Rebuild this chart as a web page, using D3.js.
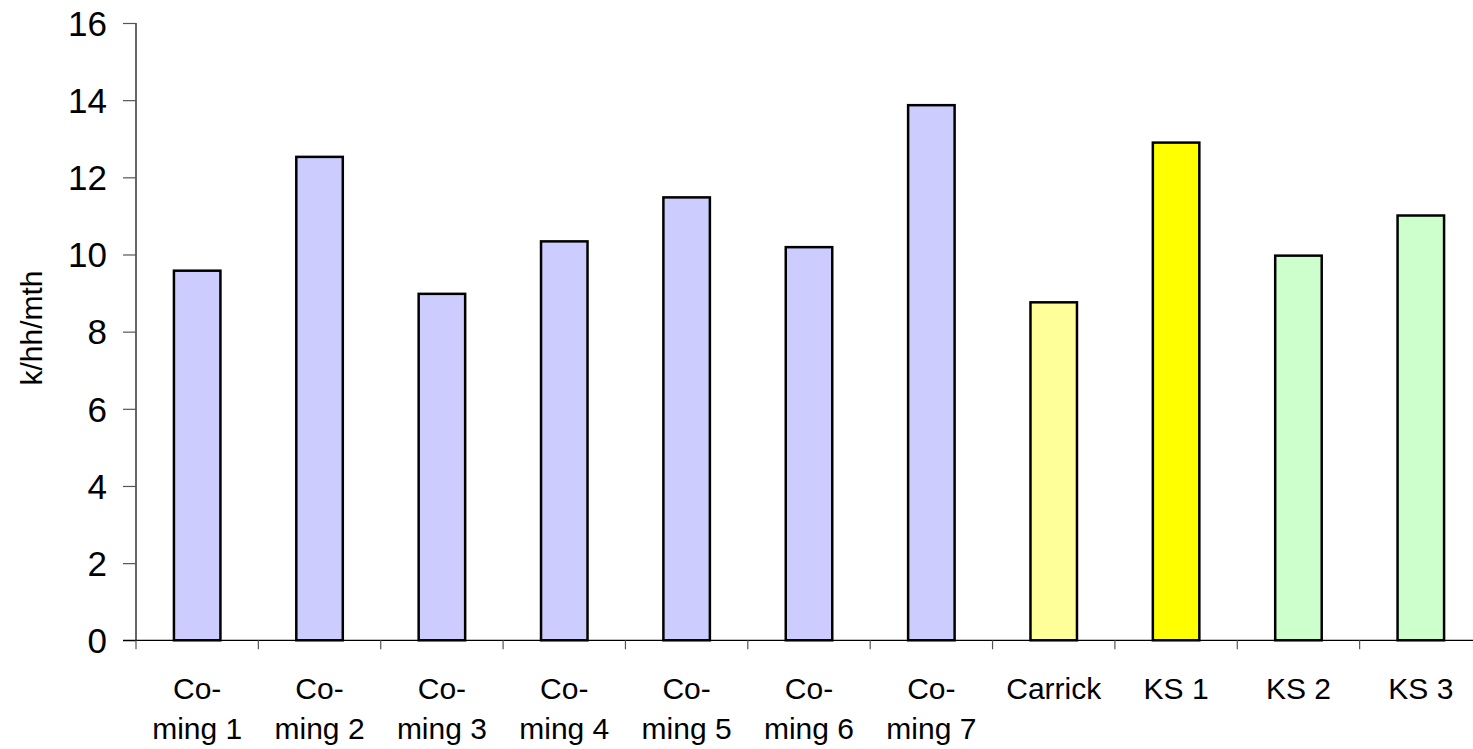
<!DOCTYPE html>
<html>
<head>
<meta charset="utf-8">
<script src="https://cdn.jsdelivr.net/npm/d3@7"></script>
<style>
  html, body { margin: 0; padding: 0; background: #fff; }
  svg { display: block; }
  text { font-family: "Liberation Sans", Arial, sans-serif; fill: #000; }
</style>
</head>
<body>
<svg id="chart" width="1473" height="749"></svg>
<script>
const categories = ["Co-ming 1", "Co-ming 2", "Co-ming 3", "Co-ming 4", "Co-ming 5", "Co-ming 6", "Co-ming 7", "Carrick", "KS 1", "KS 2", "KS 3"];
const labelLines = [["Co-", "ming 1"], ["Co-", "ming 2"], ["Co-", "ming 3"], ["Co-", "ming 4"], ["Co-", "ming 5"], ["Co-", "ming 6"], ["Co-", "ming 7"], ["Carrick"], ["KS 1"], ["KS 2"], ["KS 3"]];
const values = [9.58, 12.53, 8.98, 10.34, 11.48, 10.19, 13.87, 8.76, 12.90, 9.97, 11.01];
const barColors = ["#CCCCFF", "#CCCCFF", "#CCCCFF", "#CCCCFF", "#CCCCFF", "#CCCCFF", "#CCCCFF", "#FFFF99", "#FFFF00", "#CCFFCC", "#CCFFCC"];
const yTicks = [0, 2, 4, 6, 8, 10, 12, 14, 16];
const yTitle = "k/hh/mth";

(function () {
const svg = d3.select("#chart");
const pL = 136, pR = 1482, pT = 23, pB = 640.3;

const xOuter = d3.scaleBand().domain(categories).range([pL, pR]).padding(0);
const x = d3.scaleBand().domain(categories).range([pL, pR]).paddingInner(0.62).paddingOuter(0.31);
const y = d3.scaleLinear().domain([0, 16]).range([pB, pT]);

// bars
svg.append("g").selectAll("rect").data(categories).join("rect")
  .attr("x", d => x(d))
  .attr("y", (d, i) => y(values[i]))
  .attr("width", x.bandwidth())
  .attr("height", (d, i) => y(0) - y(values[i]))
  .attr("fill", (d, i) => barColors[i])
  .attr("stroke", "#000")
  .attr("stroke-width", 2.5);

// y axis
const yAxis = svg.append("g").attr("transform", `translate(${pL},0)`)
  .call(d3.axisLeft(y).tickValues(yTicks).tickSize(13).tickPadding(16).tickFormat(d3.format("d")));
yAxis.select(".domain").attr("stroke", "#000").attr("stroke-width", 1.2).attr("d", `M0,${pT}V${pB}`);
yAxis.selectAll(".tick line").attr("stroke", "#555").attr("stroke-width", 1.2);
yAxis.selectAll(".tick text").style("font-size", "35px").attr("dy", "0.35em")
  .style("font-family", "'Liberation Sans', Arial, sans-serif").attr("fill", "#000");

// x axis
const xAxisG = svg.append("g").attr("transform", `translate(0,${pB})`);
xAxisG.append("line").attr("x1", pL - 13).attr("x2", pR).attr("y1", 0).attr("y2", 0)
  .attr("stroke", "#000").attr("stroke-width", 1.2);
const boundaries = categories.map(c => xOuter(c)).concat([pR]);
xAxisG.selectAll("line.tk").data(boundaries).join("line").attr("class", "tk")
  .attr("x1", d => d).attr("x2", d => d).attr("y1", 0).attr("y2", 9)
  .attr("stroke", "#555").attr("stroke-width", 1.2);

// x labels
const lbl = svg.append("g").selectAll("text").data(categories).join("text")
  .attr("text-anchor", "middle")
  .style("font-size", "30px");
lbl.each(function (d, i) {
  const cx = xOuter(d) + xOuter.bandwidth() / 2;
  d3.select(this).selectAll("tspan").data(labelLines[i]).join("tspan")
    .attr("x", cx)
    .attr("y", (t, j) => 699 + j * 40)
    .text(t => t);
});

// y title
svg.append("text")
  .attr("transform", `translate(42,328) rotate(-90)`)
  .attr("text-anchor", "middle")
  .style("font-size", "30px")
  .text(yTitle);
})();
</script>
</body>
</html>
